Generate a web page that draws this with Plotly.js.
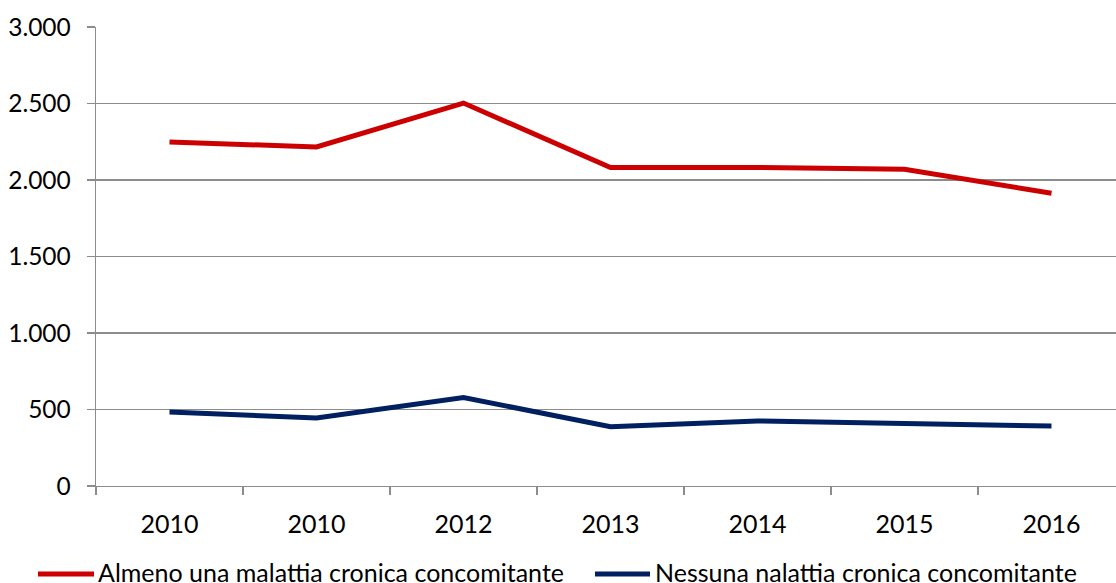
<!DOCTYPE html>
<html>
<head>
<meta charset="utf-8">
<script src="https://cdn.plot.ly/plotly-3.0.1.min.js"></script>
<style>html,body{margin:0;padding:0;background:#fff;}#chart{width:1116px;height:583px;}</style>
</head>
<body>
<div id="chart"></div>
<script>
const categories = ["2010", "2010", "2012", "2013", "2014", "2015", "2016"];
const almenoUna = [2248, 2216, 2503, 2081, 2082, 2070, 1913];
const nessuna = [484, 444, 578, 387, 425, 412, 392];
const seriesNames = ["Almeno una malattia cronica concomitante", "Nessuna nalattia cronica concomitante"];
const yTicks = [0, 500, 1000, 1500, 2000, 2500, 3000];

const idx = categories.map((c, i) => i);
const boundaries = categories.map((c, i) => i - 0.5).concat([categories.length - 0.5]);

const W = 1116, H = 583, L = 96, R = 0, T = 27, B = 97;
const pw = W - L - R, ph = H - T - B;
const px = x => (x - L) / pw;
const py = y => (H - B - y) / ph;

const font = {family: "Lato, 'Open Sans', sans-serif", size: 25, color: "#000"};
const yfont = {family: "Lato, 'Open Sans', sans-serif", size: 24.5, color: "#000"};
const grid = "#8c8c8c";

const traces = [
  {x: idx, y: almenoUna, type: "scatter", mode: "lines", name: seriesNames[0],
   line: {color: "#cc0000", width: 5}, showlegend: false, hoverinfo: "y"},
  {x: idx, y: nessuna, type: "scatter", mode: "lines", name: seriesNames[1],
   line: {color: "#002060", width: 5}, showlegend: false, hoverinfo: "y"}
];

const legendItems = [
  {x0: 38, x1: 94, tx: 96, color: "#cc0000", text: seriesNames[0]},
  {x0: 595, x1: 650, tx: 653, color: "#002060", text: seriesNames[1]}
];
const legendY = 574;

const layout = {
  width: W, height: H,
  margin: {l: L, r: R, t: T, b: B, pad: 0},
  paper_bgcolor: "#fff", plot_bgcolor: "#fff",
  separators: ",.",
  font: font,
  xaxis: {
    type: "linear",
    range: [-0.5, -0.5 + pw / 147],
    tickmode: "array", tickvals: idx, ticktext: categories,
    ticks: "", ticklen: 0,
    ticklabelstandoff: 16,
    showgrid: false, zeroline: false,
    showline: true, linecolor: grid, linewidth: 1.3,
    minor: {tickmode: "array", tickvals: boundaries, ticks: "outside", ticklen: 8, tickwidth: 1.3, tickcolor: grid, showgrid: false},
    tickfont: font, fixedrange: true
  },
  yaxis: {
    range: [0, 3000],
    tickmode: "array", tickvals: yTicks,
    tickformat: ",d",
    ticks: "outside", ticklen: 8, tickwidth: 1.3, tickcolor: grid,
    ticklabelstandoff: 11,
    showgrid: true, gridcolor: grid, gridwidth: 1.3,
    zeroline: false,
    showline: true, linecolor: grid, linewidth: 1.3,
    tickfont: yfont, fixedrange: true
  },
  shapes: legendItems.map(it => ({
    type: "line", xref: "paper", yref: "paper",
    x0: px(it.x0), x1: px(it.x1), y0: py(legendY), y1: py(legendY),
    line: {color: it.color, width: 5}
  })),
  annotations: legendItems.map(it => ({
    xref: "paper", yref: "paper", x: px(it.tx), y: py(legendY - 2.5),
    xanchor: "left", yanchor: "middle", showarrow: false,
    text: it.text, font: font
  })),
  showlegend: false
};

Plotly.newPlot("chart", traces, layout, {displayModeBar: false, staticPlot: true});
</script>
</body>
</html>
